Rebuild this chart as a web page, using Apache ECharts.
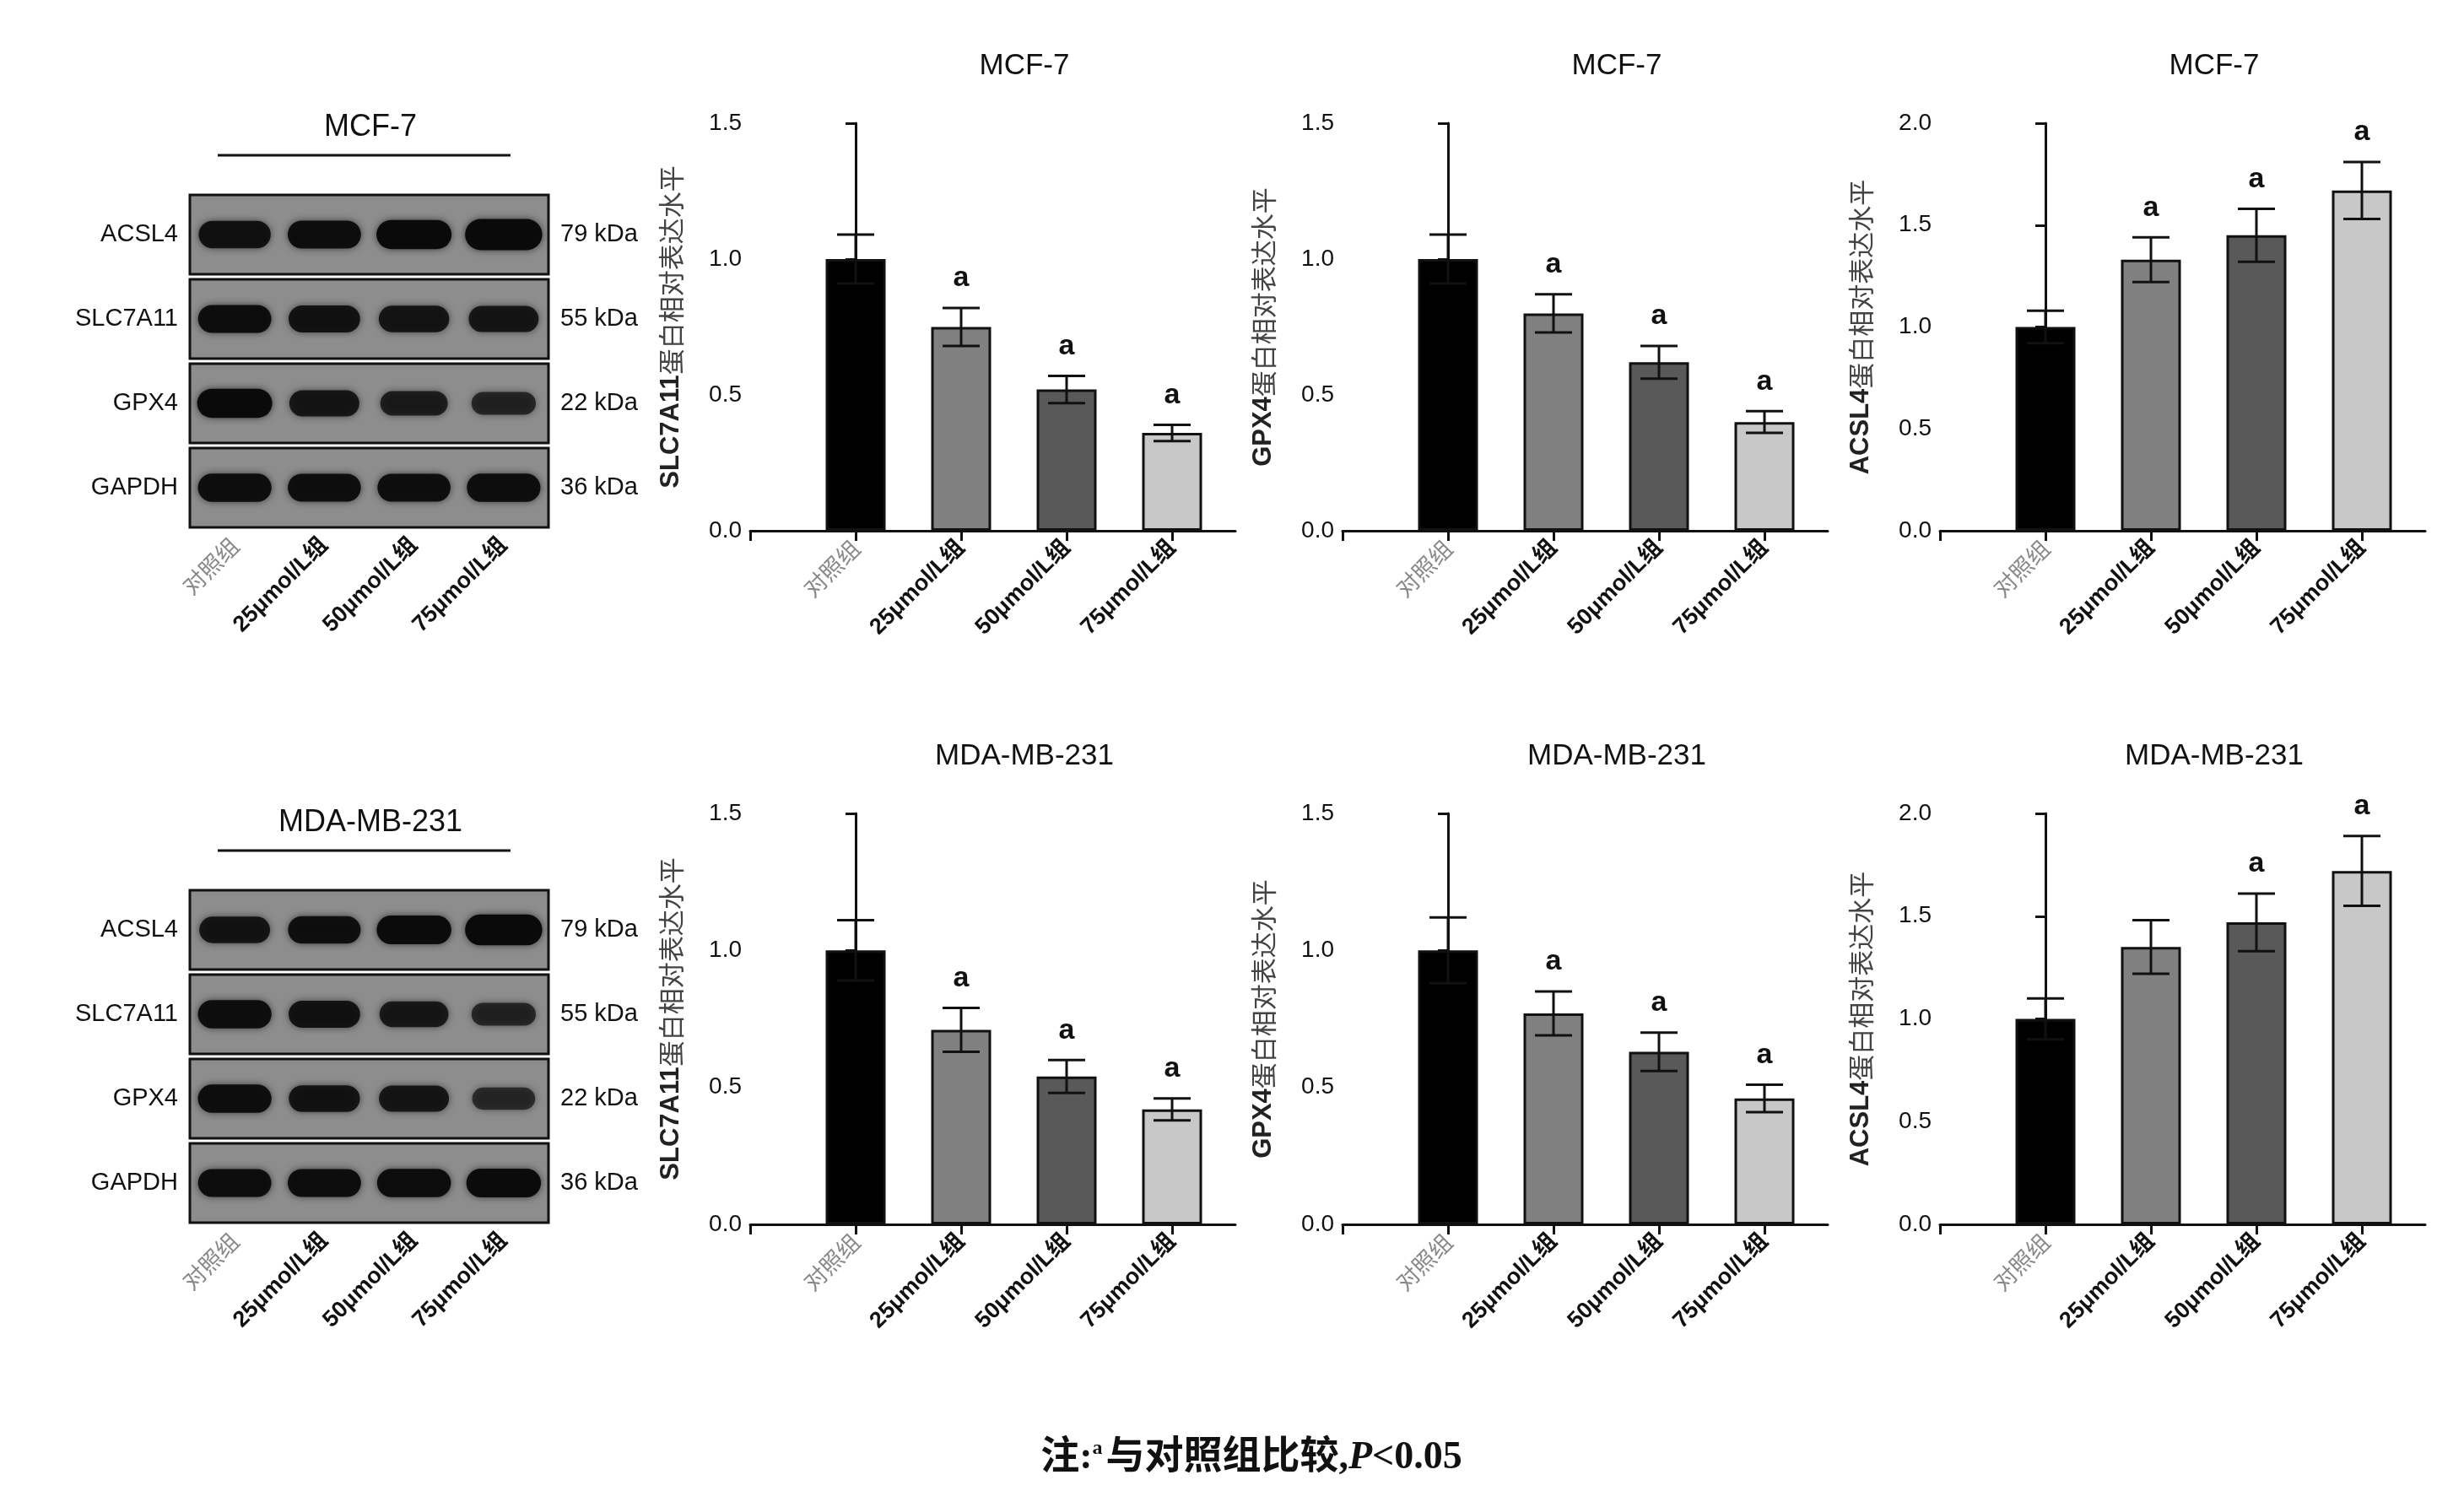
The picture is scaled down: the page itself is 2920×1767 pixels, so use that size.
<!DOCTYPE html>
<html><head><meta charset="utf-8">
<script src="https://cdn.jsdelivr.net/npm/echarts@6/dist/echarts.min.js"></script>
<style>html,body{margin:0;padding:0;background:#fff}#c{width:2920px;height:1767px}</style>
</head><body><div id="c"></div>
<script>
const groups = ['对照组','25μmol/L组','50μmol/L组','75μmol/L组'];
const proteins = ['ACSL4','SLC7A11','GPX4','GAPDH'];
const kda = ['79 kDa','55 kDa','22 kDa','36 kDa'];
// band intensities per protein (rows) per lane
const blotMCF = [[0.80,0.85,0.92,1.08],[0.85,0.78,0.74,0.72],[0.92,0.72,0.62,0.50],[0.86,0.84,0.84,0.86]];
const blotMDA = [[0.75,0.82,0.90,1.05],[0.86,0.78,0.68,0.50],[0.86,0.76,0.72,0.45],[0.85,0.85,0.87,0.90]];
// bar means and SD
const mcfSLC = [1.00,0.75,0.52,0.36], mcfSLCe = [0.09,0.07,0.05,0.03];
const mcfGPX = [1.00,0.80,0.62,0.40], mcfGPXe = [0.09,0.07,0.06,0.04];
const mcfACS = [1.00,1.33,1.45,1.67], mcfACSe = [0.08,0.11,0.13,0.14];
const mdaSLC = [1.00,0.71,0.54,0.42], mdaSLCe = [0.11,0.08,0.06,0.04];
const mdaGPX = [1.00,0.77,0.63,0.46], mdaGPXe = [0.12,0.08,0.07,0.05];
const mdaACS = [1.00,1.35,1.47,1.72], mdaACSe = [0.10,0.13,0.14,0.17];
const sigMCF = [[0,1,1,1],[0,1,1,1],[0,1,1,1]];
const sigMDA = [[0,1,1,1],[0,1,1,1],[0,0,1,1]];
const barColors = ['#000000','#808080','#595959','#c8c8c8'];

const chart = echarts.init(document.getElementById('c'));
const grids=[], xAxes=[], yAxes=[], series=[], titles=[], graphics=[];
const F = 'Liberation Sans, Arial, Noto Sans CJK SC, sans-serif';
const laneRich = {a:{color:'#888',fontSize:27,fontFamily:'Noto Sans CJK SC'},b:{color:'#111',fontSize:27,fontWeight:'bold',fontFamily:F}};
const laneFmt = v => groups.indexOf(v)===0 ? '{a|'+v+'}' : '{b|'+v+'}';

function addBlot(top, label, data){
  const gi = grids.length;
  grids.push({left:225, width:425, top:top, height:400});
  xAxes.push({type:'category', gridIndex:gi, data:groups, axisLine:{show:false}, axisTick:{show:false},
    axisLabel:{rotate:45, margin:14, formatter:laneFmt, rich:laneRich}});
  yAxes.push({type:'category', gridIndex:gi, data:proteins, inverse:true, axisLine:{show:false}, axisTick:{show:false},
    axisLabel:{fontSize:29, color:'#111', fontFamily:F, margin:14}});
  yAxes.push({type:'category', gridIndex:gi, data:kda, inverse:true, position:'right', axisLine:{show:false}, axisTick:{show:false},
    axisLabel:{fontSize:29, color:'#111', fontFamily:F, margin:14}});
  series.push({type:'custom', xAxisIndex:gi, yAxisIndex:yAxes.length-2, data:proteins.map((p,i)=>[0,i]),
    renderItem:(params, api)=>{
      const cs = params.coordSys; const c = api.coord([0, api.value(1)]); const s = api.size([1,1]);
      return {type:'rect', shape:{x:cs.x, y:c[1]-s[1]/2+3, width:cs.width, height:s[1]-6},
        style:{fill:'#8d8d8d', stroke:'#111', lineWidth:3}};
    }});
  const pts=[]; data.forEach((row,r)=>row.forEach((v,l)=>pts.push([l,r,v])));
  series.push({type:'custom', xAxisIndex:gi, yAxisIndex:yAxes.length-2, data:pts, z:3,
    renderItem:(params, api)=>{
      const c = api.coord([api.value(0), api.value(1)]); const s = api.size([1,1]); const v = api.value(2);
      const w = s[0]*0.82*Math.min(1.05, 0.7+0.35*v), h = s[1]*0.34*(0.55+0.5*v);
      return {type:'rect', shape:{x:c[0]-w/2, y:c[1]-h/2, width:w, height:h, r:h/2},
        style:{fill:'rgba(10,10,10,'+Math.min(1,0.35+0.7*v)+')', shadowBlur:8, shadowColor:'rgba(0,0,0,0.6)'}};
    }});
  titles.push({text:label, left:434, top:top-100, textAlign:'center', textStyle:{fontSize:36, fontWeight:'normal', color:'#111', fontFamily:F}});
  graphics.push({type:'line', shape:{x1:258, y1:top-44, x2:605, y2:top-44}, style:{stroke:'#111', lineWidth:3}});
}

function addBar(left, top, height, title, name, vals, errs, sig, ymax){
  const gi = grids.length;
  grids.push({left:left, width:575, top:top, height:height});
  xAxes.push({type:'value', gridIndex:gi, min:-1, max:3.6, interval:1, splitLine:{show:false},
    axisLine:{lineStyle:{color:'#111', width:3}}, axisTick:{length:12, lineStyle:{width:3,color:'#111'}},
    axisLabel:{rotate:45, margin:16, showMinLabel:true, showMaxLabel:false, formatter:v=>{const i=Math.round(v); return (i>=0&&i<4&&Math.abs(v-i)<1e-6)? laneFmt(groups[i]) : '';}, rich:laneRich}});
  yAxes.push({type:'value', gridIndex:gi, min:0, max:ymax, interval:0.5, splitLine:{show:false},
    axisLine:{show:true, lineStyle:{color:'#111', width:3}}, axisTick:{show:true, length:12, lineStyle:{width:3,color:'#111'}},
    axisLabel:{fontSize:28, color:'#111', fontFamily:F, margin:10, formatter:v=>v.toFixed(1)},
    name:name, nameLocation:'middle', nameRotate:90, nameGap:78,
    nameTextStyle:{rich:{b:{fontSize:31, fontWeight:'bold', color:'#222', fontFamily:F}, c:{fontSize:31, color:'#444', fontFamily:'Noto Sans CJK SC'}}}});
  const yi = yAxes.length-1;
  series.push({type:'bar', xAxisIndex:gi, yAxisIndex:yi, barWidth:71,
    data:vals.map((v,i)=>({value:[i,v], itemStyle:{color:barColors[i], borderColor:'#111', borderWidth:3}}))});
  series.push({type:'custom', xAxisIndex:gi, yAxisIndex:yi, z:5, data:vals.map((v,i)=>[i,v,errs[i],sig[i]]),
    renderItem:(params, api)=>{
      const x=api.value(0), m=api.value(1), e=api.value(2);
      const t = api.coord([x, m+e]), b = api.coord([x, m-e]); const cw=22;
      const ch=[
        {type:'line', shape:{x1:t[0], y1:t[1], x2:b[0], y2:b[1]}, style:{stroke:'#111', lineWidth:3}},
        {type:'line', shape:{x1:t[0]-cw, y1:t[1], x2:t[0]+cw, y2:t[1]}, style:{stroke:'#111', lineWidth:3}},
        {type:'line', shape:{x1:b[0]-cw, y1:b[1], x2:b[0]+cw, y2:b[1]}, style:{stroke:'#111', lineWidth:3}}];
      if(api.value(3)) ch.push({type:'text', style:{text:'a', x:t[0], y:t[1]-18, textAlign:'center', textVerticalAlign:'bottom', fontSize:34, fontWeight:'bold', fill:'#111', fontFamily:F}});
      return {type:'group', children:ch};
    }});
  titles.push({text:title, left:left+125+ (575-125)/2 - 30, top:top-90, textAlign:'center', textStyle:{fontSize:35, fontWeight:'normal', color:'#111', fontFamily:F}});
}

addBlot(228,'MCF-7',blotMCF);
addBlot(1052,'MDA-MB-231',blotMDA);
const lefts=[889,1591,2299];
const namesY=['{b|SLC7A11}{c|蛋白相对表达水平}','{b|GPX4}{c|蛋白相对表达水平}','{b|ACSL4}{c|蛋白相对表达水平}'];
const mcf=[[mcfSLC,mcfSLCe],[mcfGPX,mcfGPXe],[mcfACS,mcfACSe]];
const mda=[[mdaSLC,mdaSLCe],[mdaGPX,mdaGPXe],[mdaACS,mdaACSe]];
const ymaxs=[1.5,1.5,2.0];
for(let k=0;k<3;k++){
  addBar(lefts[k],146,483,'MCF-7',namesY[k],mcf[k][0],mcf[k][1],sigMCF[k],ymaxs[k]);
  addBar(lefts[k],964,487,'MDA-MB-231',namesY[k],mda[k][0],mda[k][1],sigMDA[k],ymaxs[k]);
}
titles.push({text:'{n|注:}{s|a}{n|与对照组比较,}{i|P}{n|<0.05}', left:1478, top:1700, textAlign:'center',
  textStyle:{rich:{n:{fontSize:46, color:'#111', fontFamily:'Liberation Serif, Noto Sans CJK SC'}, s:{fontSize:24, color:'#111', fontFamily:'Liberation Serif', verticalAlign:'top', padding:[0,4,22,0]}, i:{fontSize:46, fontStyle:'italic', color:'#111', fontFamily:'Liberation Serif'}}}});

chart.setOption({animation:false, title:titles, grid:grids, xAxis:xAxes, yAxis:yAxes, series:series, graphic:graphics});
</script></body></html>
